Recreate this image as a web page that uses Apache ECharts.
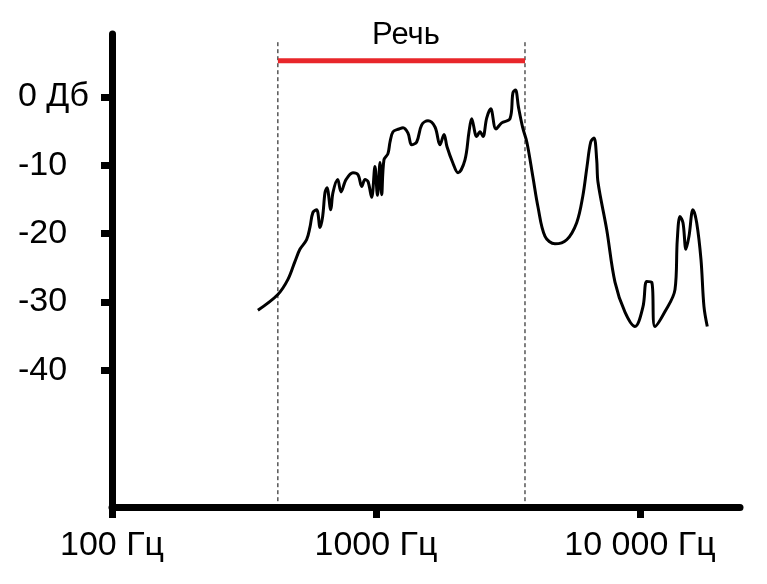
<!DOCTYPE html>
<html>
<head>
<meta charset="utf-8">
<script src="https://cdn.jsdelivr.net/npm/echarts@6/dist/echarts.min.js"></script>
<style>html,body{margin:0;padding:0;background:#fff}#c{width:767px;height:584px}</style>
</head>
<body>
<div id="c"></div>
<script>
// Frequency (Hz) and level (dB) of the spectrum curve
const freqs = [357,425,464,493,515,546,562,577,596,614,628,641,652,674,687,716,737,770,818,855,883,909,933,963,991,1013,1036,1051,1072,1110,1130,1160,1222,1266,1322,1365,1426,1490,1574,1673,1747,1810,1858,1952,2045,2173,2251,2304,2407,2477,2543,2626,2720,2848,2993,3218,3302,3376,3465,3595,3732,3933,4108,4368,4764,5277,5758,6068,6299,6507,6697,6856,6934,7479,8040,8774,9575,10266,10602,11074,11397,12436,13570,13845,14174,14551,14936,15332,15877,16398,17025,17474,17985];
const levels = [-31.2,-28.9,-26.7,-24.1,-22.3,-20.9,-19.1,-16.9,-16.5,-19.1,-17.5,-14.0,-13.3,-16.5,-14.0,-12.1,-13.9,-12.1,-11.1,-11.4,-13.1,-12.1,-12.4,-14.7,-10.2,-14.4,-9.6,-14.3,-9.2,-8.3,-6.6,-5.1,-4.7,-4.5,-5.3,-7.0,-6.6,-4.1,-3.5,-4.4,-7.0,-5.5,-7.3,-9.6,-11.1,-9.2,-5.1,-3.2,-5.8,-5.1,-5.8,-3.1,-1.75,-4.7,-3.8,-3.2,0.6,1.0,-1.5,-4.5,-6.7,-11.8,-16.1,-20.4,-21.5,-20.9,-18.4,-14.6,-10.2,-6.6,-6.0,-9.2,-12.5,-19.4,-27.1,-31.5,-33.6,-30.7,-27.0,-27.1,-33.6,-31.4,-28.2,-20.9,-17.5,-18.4,-22.3,-20.4,-16.5,-18.4,-23.8,-30.7,-33.6];
// Speech band bounds (Hz)
const speechBand = [425, 3668];
const speechBarLevel = 5.3;
const speechLineTop = 8.0;
const speechTitle = 'Речь';
// Axis ticks
const xTicks = [100, 1000, 10000];
const xTickLabels = ['100 Гц', '1000 Гц', '10 000 Гц'];
const yTicks = [0, -10, -20, -30, -40];
const yTickLabels = ['0 Дб', '-10', '-20', '-30', '-40'];

const curve = freqs.map((f, i) => [f, levels[i]]);
const font = 'Liberation Sans, Arial, sans-serif';

const chart = echarts.init(document.getElementById('c'));
chart.setOption({
  animation: false,
  title: {
    text: speechTitle, left: 401, top: 15, textAlign: 'center',
    textStyle: {fontFamily: font, fontSize: 31, fontWeight: 'normal', color: '#000'}
  },
  grid: {left: 112, right: 27, top: 34, bottom: 77, containLabel: false},
  xAxis: {
    type: 'log', logBase: 10, min: 100, max: 23925,
    splitLine: {show: false},
    axisLine: {show: true, onZero: false, lineStyle: {color: '#000', width: 7}},
    axisTick: {show: true, customValues: xTicks, length: 11, lineStyle: {color: '#000', width: 7}},
    axisLabel: {
      show: true, customValues: xTicks, margin: 22,
      fontFamily: font, fontSize: 34, color: '#000',
      formatter: v => { const i = xTicks.findIndex(t => Math.abs(t - v) < 1e-6 * t); return i >= 0 ? xTickLabels[i] : ''; }
    }
  },
  yAxis: {
    type: 'value', min: -60, max: 9.2,
    splitLine: {show: false},
    axisLine: {show: true, onZero: false, lineStyle: {color: '#000', width: 7}},
    axisTick: {show: true, customValues: yTicks, length: 11, lineStyle: {color: '#000', width: 7}},
    axisLabel: {
      show: true, customValues: yTicks, margin: 94, align: 'left',
      fontFamily: font, fontSize: 34, color: '#000',
      formatter: v => { const i = yTicks.indexOf(v); return i >= 0 ? yTickLabels[i] : ''; }
    }
  },
  series: [
    {
      type: 'line', data: [[speechBand[0], speechLineTop], [speechBand[0], -60]],
      symbol: 'none', silent: true,
      lineStyle: {color: '#000', width: 1, type: [4, 3]}
    },
    {
      type: 'line', data: [[speechBand[1], speechLineTop], [speechBand[1], -60]],
      symbol: 'none', silent: true,
      lineStyle: {color: '#000', width: 1, type: [4, 3]}
    },
    {
      type: 'line', data: [[speechBand[0], speechBarLevel], [speechBand[1], speechBarLevel]],
      symbol: 'none', silent: true,
      lineStyle: {color: '#e8262a', width: 5}
    },
    {
      type: 'line', data: curve, symbol: 'none', smooth: 0.35, silent: true,
      lineStyle: {color: '#000', width: 3}
    }
  ]
});
</script>
</body>
</html>
